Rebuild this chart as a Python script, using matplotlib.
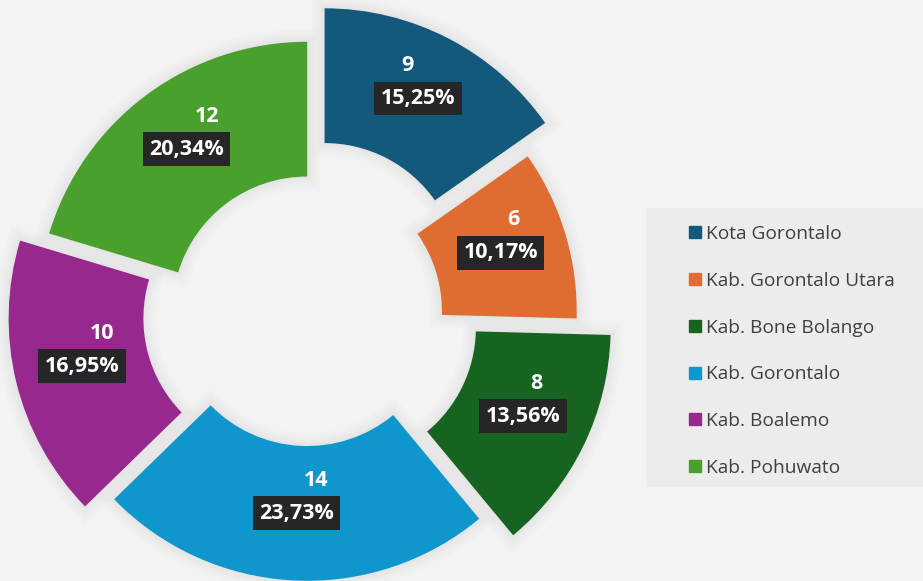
import numpy as np
import matplotlib
matplotlib.use("Agg")
import matplotlib.pyplot as plt
from matplotlib.lines import Line2D
from matplotlib.patches import Rectangle

# --- data ---
regions = ["Kota Gorontalo", "Kab. Gorontalo Utara", "Kab. Bone Bolango",
           "Kab. Gorontalo", "Kab. Boalemo", "Kab. Pohuwato"]
counts = [9, 6, 8, 14, 10, 12]
colors = ["#13597b", "#df6c30", "#176421", "#0f96cc", "#97298e", "#4aa02c"]

# --- style ---
explode = [0.140, 0.0, 0.140, 0.0, 0.111, 0.0]   # per-slice pull-out (ring radius units)
num_dx = [-10, 13, 13, 20, 20, 20]              # nudge of the count label (px)
RING = 0.5                                       # ring width / outer radius
BG = "#f3f3f3"

plt.rcParams["font.family"] = ["Open Sans", "DejaVu Sans"]

W, H = 923, 581
fig = plt.figure(figsize=(W / 100, H / 100), dpi=100, facecolor=BG)
ax = fig.add_axes([0, 0, 1, 1])
ax.set_facecolor(BG)

pct_fmt = lambda p: f"{p:.2f}".replace(".", ",") + "%"

# soft shadow: stacked translucent strokes under the slices
for lw in [18, 13, 9, 5, 2]:
    ax.pie(counts, explode=explode, startangle=90, counterclock=False,
           radius=1, colors=[BG] * len(counts),
           wedgeprops=dict(width=RING, edgecolor="#8a8a8a", linewidth=lw, alpha=0.022))

wedges, _, autotexts = ax.pie(
    counts, explode=explode, startangle=90, counterclock=False, radius=1,
    colors=colors, autopct=pct_fmt, pctdistance=0.75,
    wedgeprops=dict(width=RING, linewidth=0),
    textprops=dict(color="white", fontsize=15.5, fontweight="bold"))

for t, n, dx in zip(autotexts, counts, num_dx):
    t.set_bbox(dict(boxstyle="square,pad=0.3", fc="#262626", ec="none"))
    t.set_va("center")
    ax.annotate(str(n), xy=t.get_position(), xytext=(dx * 0.72, 33 * 0.72),
                textcoords="offset points", ha="center", va="center",
                color="white", fontsize=15.5, fontweight="bold")

# map data units to the picture: centre at (307, 311) px, outer radius 269.5 px
R = 269.5
cx, cy = 307.2, 311.3
ax.set_xlim(-cx / R, (W - cx) / R)
ax.set_ylim(-(H - cy) / R, cy / R)
ax.set_aspect("auto")
ax.axis("off")

# legend panel
fig.patches.append(Rectangle((646 / W, 1 - 487 / H), 1 - 646 / W, (487 - 208) / H,
                             transform=fig.transFigure, fc="#ececec", ec="none", zorder=0))
handles = [Line2D([], [], marker="s", linestyle="none", markersize=8.4,
                  markerfacecolor=c, markeredgecolor=c) for c in colors]
fig.legend(handles, regions, loc="center left",
           bbox_to_anchor=(689 / W, 1 - 351 / H), frameon=False,
           fontsize=13.8, labelcolor="#404040", handlelength=0.62,
           handletextpad=0.28, labelspacing=1.5, borderpad=0, borderaxespad=0)

fig.savefig("out.png", dpi=100, facecolor=BG)
